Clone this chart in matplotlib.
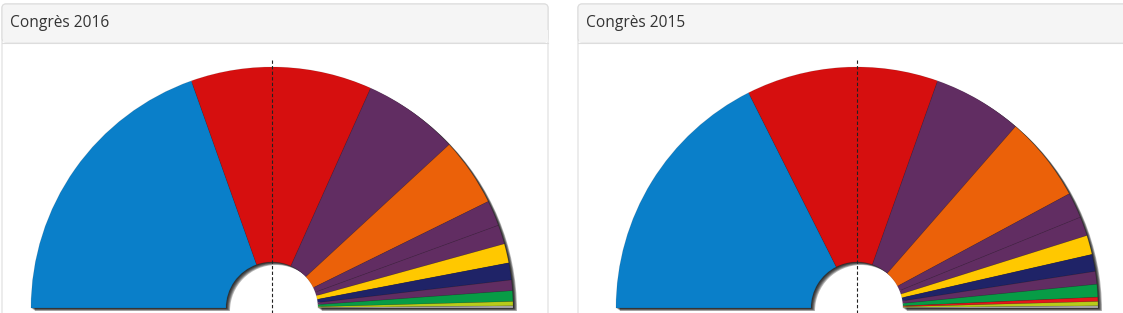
import matplotlib
matplotlib.use("Agg")
import matplotlib.pyplot as plt
from matplotlib.patches import Wedge, FancyBboxPatch, Rectangle
import numpy as np

# seats per party, clockwise from the left
parties_2016 = ["PP", "PSOE", "Podemos", "Cs", "En Comú", "Compromís", "ERC",
                "CDC", "En Marea", "PNV", "EH Bildu", "CC"]
seats_2016 = [137, 85, 45, 32, 12, 9, 9, 8, 5, 5, 2, 1]

parties_2015 = ["PP", "PSOE", "Podemos", "Cs", "En Comú", "Compromís", "ERC",
                "DiL", "En Marea", "PNV", "IU-UP", "EH Bildu", "CC"]
seats_2015 = [123, 90, 42, 40, 12, 9, 9, 8, 6, 6, 2, 2, 1]

titles = ["Congrès 2016", "Congrès 2015"]

COLORS = {
    "PP": "#0a7fc9", "PSOE": "#d60f0f", "Podemos": "#612d62", "Cs": "#eb6109",
    "En Comú": "#612d62", "Compromís": "#612d62", "En Marea": "#612d62",
    "ERC": "#ffc800", "CDC": "#1f2367", "DiL": "#1f2367", "PNV": "#079c46",
    "IU-UP": "#e3171b", "EH Bildu": "#b8cc1a", "CC": "#a8a8a8",
}

W, H = 1123, 313
fig = plt.figure(figsize=(W / 100, H / 100), dpi=100)
ax = fig.add_axes([0, 0, 1, 1])
ax.set_xlim(0, W)
ax.set_ylim(H, 0)
ax.axis("off")

R_OUT, R_IN = 241, 46


def draw_panel(x0, x1, title, parties, seats, cx, cy):
    # card body + header
    ax.add_patch(FancyBboxPatch((x0, 4), x1 - x0, 400, boxstyle="round,pad=0,rounding_size=4",
                                fc="white", ec="#dddddd", lw=0.8, zorder=1))
    ax.add_patch(FancyBboxPatch((x0, 4), x1 - x0, 38, boxstyle="round,pad=0,rounding_size=4",
                                fc="#f5f5f5", ec="#dddddd", lw=0.8, zorder=2))
    ax.add_patch(Rectangle((x0 + 0.5, 30), x1 - x0 - 1, 12, fc="#f5f5f5", ec="none", zorder=2))
    ax.plot([x0, x1], [42.5, 42.5], color="#dddddd", lw=0.8, zorder=3)
    ax.text(x0 + 8, 23, title, fontsize=11.2, family=["Open Sans", "DejaVu Sans"],
            color="#333333", va="center", ha="left", zorder=4)

    # shadow cast to the lower right, darker near the shape
    for k in range(1, 6):
        ax.add_patch(Wedge((cx + 0.8 * k, cy + 0.6 * k), R_OUT, 180, 360, width=R_OUT - R_IN,
                           fc="black", ec="none", alpha=0.28, zorder=4))

    total = sum(seats)
    cum = np.concatenate([[0], np.cumsum(seats)])
    for i, p in enumerate(parties):
        a1 = cum[i] / total * 180 - 180
        a2 = cum[i + 1] / total * 180 - 180
        ax.add_patch(Wedge((cx, cy), R_OUT, a1, a2, width=R_OUT - R_IN,
                           fc=COLORS[p], ec=(0, 0, 0, 0.12), lw=0.5, zorder=5))

    ax.plot([cx, cx], [60, H], color="#222222", lw=0.8, ls=(0, (3, 2)), zorder=6)


draw_panel(2, 548, titles[0], parties_2016, seats_2016, 272, 308)
draw_panel(578, 1135, titles[1], parties_2015, seats_2015, 857, 308)

fig.savefig("out.png", dpi=100, facecolor="white")
